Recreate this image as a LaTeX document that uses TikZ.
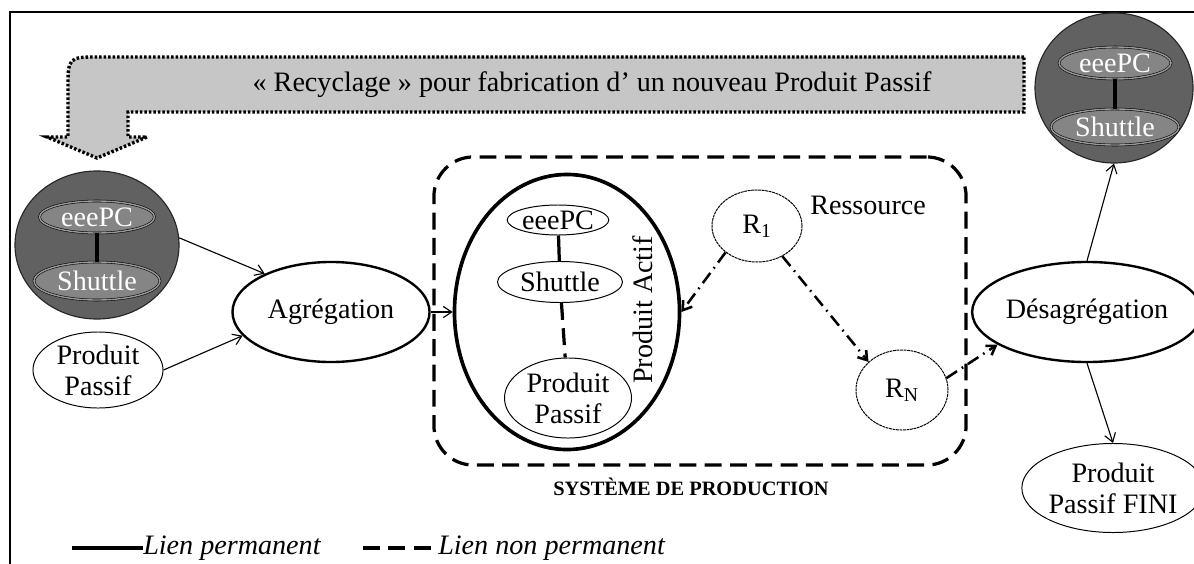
\documentclass[tikz,border=0pt]{standalone}
\usepackage{fontspec}
\setmainfont{Liberation Serif}
\usetikzlibrary{shapes.geometric,arrows.meta}

\tikzset{
  txt/.style={font=\fontsize{20}{22}\selectfont, inner sep=0pt, align=center},
  legtxt/.style={font=\fontsize{20}{22}\selectfont\itshape, inner sep=0pt, anchor=west},
  oval/.style={txt, ellipse, draw, line width=0.7pt},
  bigoval/.style={txt, ellipse, draw, line width=1.7pt},
  res/.style={txt, ellipse, draw, line width=0.7pt, dash pattern=on 2pt off 0.5pt},
  recyc/.style={ellipse, draw=black!85, line width=0.8pt, fill=black!62},
  recycin/.style={txt, ellipse, draw=black, double=gray!80, double distance=1pt, fill=black!48, text=white},
  arr/.style={-{Straight Barb[length=6pt,width=8pt]}, line width=0.8pt},
  dashdot/.style={arr, line width=1.8pt, dash pattern=on 9pt off 4pt on 1.2pt off 4pt},
  perm/.style={line width=2.3pt},
  nonperm/.style={line width=2.3pt, dash pattern=on 12pt off 6pt},
  banner/.style={fill=gray!45, draw, line width=2.4pt, dash pattern=on 1.8pt off 1.4pt},
}

\begin{document}
\begin{tikzpicture}[x=0.025cm, y=-0.025cm]
  \fill[white] (0,0) rectangle (1194,564);
  \useasboundingbox (0,0) rectangle (1194,564);
  \draw[line width=1pt] (10,564) -- (10,12) -- (1194,12);

  \draw[banner] (1024,57) -- (100,57) .. controls (68,57) .. (68,89) -- (68,137) -- (47,137) -- (97,158) -- (147,137) -- (128,137) -- (128,112) -- (1024,112) -- cycle;
  \node[txt] (recytxt) at (592,85) {« Recyclage » pour fabrication d’ un nouveau Produit Passif};

  \node[recyc, minimum width=4.1cm, minimum height=3.7cm] (recycL) at (97,245) {};
  \node[recycin, minimum width=2.875cm, minimum height=0.8cm] (eeeL) at (97,217) {eeePC};
  \node[recycin, minimum width=3.15cm, minimum height=0.95cm] (shutL) at (97,281) {Shuttle};
  \draw[line width=3pt] (eeeL) -- (shutL);

  \node[recyc, minimum width=3.95cm, minimum height=3.75cm] (recycR) at (1114,88) {};
  \node[recycin, minimum width=2.8cm, minimum height=0.8cm] (eeeR) at (1115,63) {eeePC};
  \node[recycin, minimum width=3.2cm, minimum height=0.9cm] (shutR) at (1115,127) {Shuttle};
  \draw[line width=3pt] (eeeR) -- (shutR);

  \node[oval, minimum width=3.25cm, minimum height=1.9cm] (ppL) at (98,370) {Produit\\Passif};
  \node[bigoval, minimum width=4.925cm, minimum height=2.5cm] (agreg) at (331,312) {Agrégation};

  \node[draw, nonperm, rounded corners=28pt, minimum width=13.3cm, minimum height=7.7cm] (sys) at (700,311) {};
  \node[inner sep=0pt, font=\fontsize{14.5}{16}\selectfont\bfseries] (syslbl) at (691,487) {SYSTÈME DE PRODUCTION};

  \node[ellipse, draw, line width=2.6pt, minimum width=5.625cm, minimum height=6.875cm] (actif) at (567,312) {};
  \node[txt, rotate=90] (actiftxt) at (643,310) {Produit Actif};
  \node[oval, minimum width=2.35cm, minimum height=0.75cm] (eeeA) at (558,220) {eeePC};
  \node[oval, minimum width=3.125cm, minimum height=1.025cm] (shutA) at (560,282) {Shuttle};
  \node[oval, minimum width=3.175cm, minimum height=2cm] (ppA) at (568,398) {Produit\\Passif};
  \draw[perm] (eeeA) -- (shutA);
  \draw[nonperm] (shutA) -- (ppA);

  \node[res, minimum width=2.25cm, minimum height=1.8cm] (r1) at (757,226) {R\textsubscript{1}};
  \node[txt, anchor=west] (ressource) at (810,205) {Ressource};
  \node[res, minimum width=2.3cm, minimum height=2cm] (rn) at (902,390) {R\textsubscript{N}};

  \node[bigoval, minimum width=4.825cm, minimum height=2.5cm] (desag) at (1087,312) {Désagrégation};
  \node[oval, minimum width=3.925cm, minimum height=2.225cm] (ppFini) at (1113,488) {Produit\\Passif FINI};

  \draw[arr] (recycL.5) -- (agreg.150);
  \draw[arr] (ppL.east) -- (agreg.195);
  \draw[arr] (agreg.east) -- (actif.west);
  \draw[dashdot] (r1.220) -- (actif.east);
  \draw[dashdot] (r1.-50) -- (rn.140);
  \draw[dashdot] (rn.15) -- (desag.200);
  \draw[arr] (desag.north) -- (recycR.south);
  \draw[arr] (desag.south) -- (ppFini.north);

  \node[legtxt] (legP) at (143,548) {Lien permanent};
  \coordinate (legPa) at (72,548);
  \draw[perm] (legPa) -- (legP.west);
  \node[legtxt] (legN) at (438,548) {Lien non permanent};
  \coordinate (legNa) at (363,548);
  \draw[nonperm] (legNa) -- (legN.west);
\end{tikzpicture}
\end{document}
